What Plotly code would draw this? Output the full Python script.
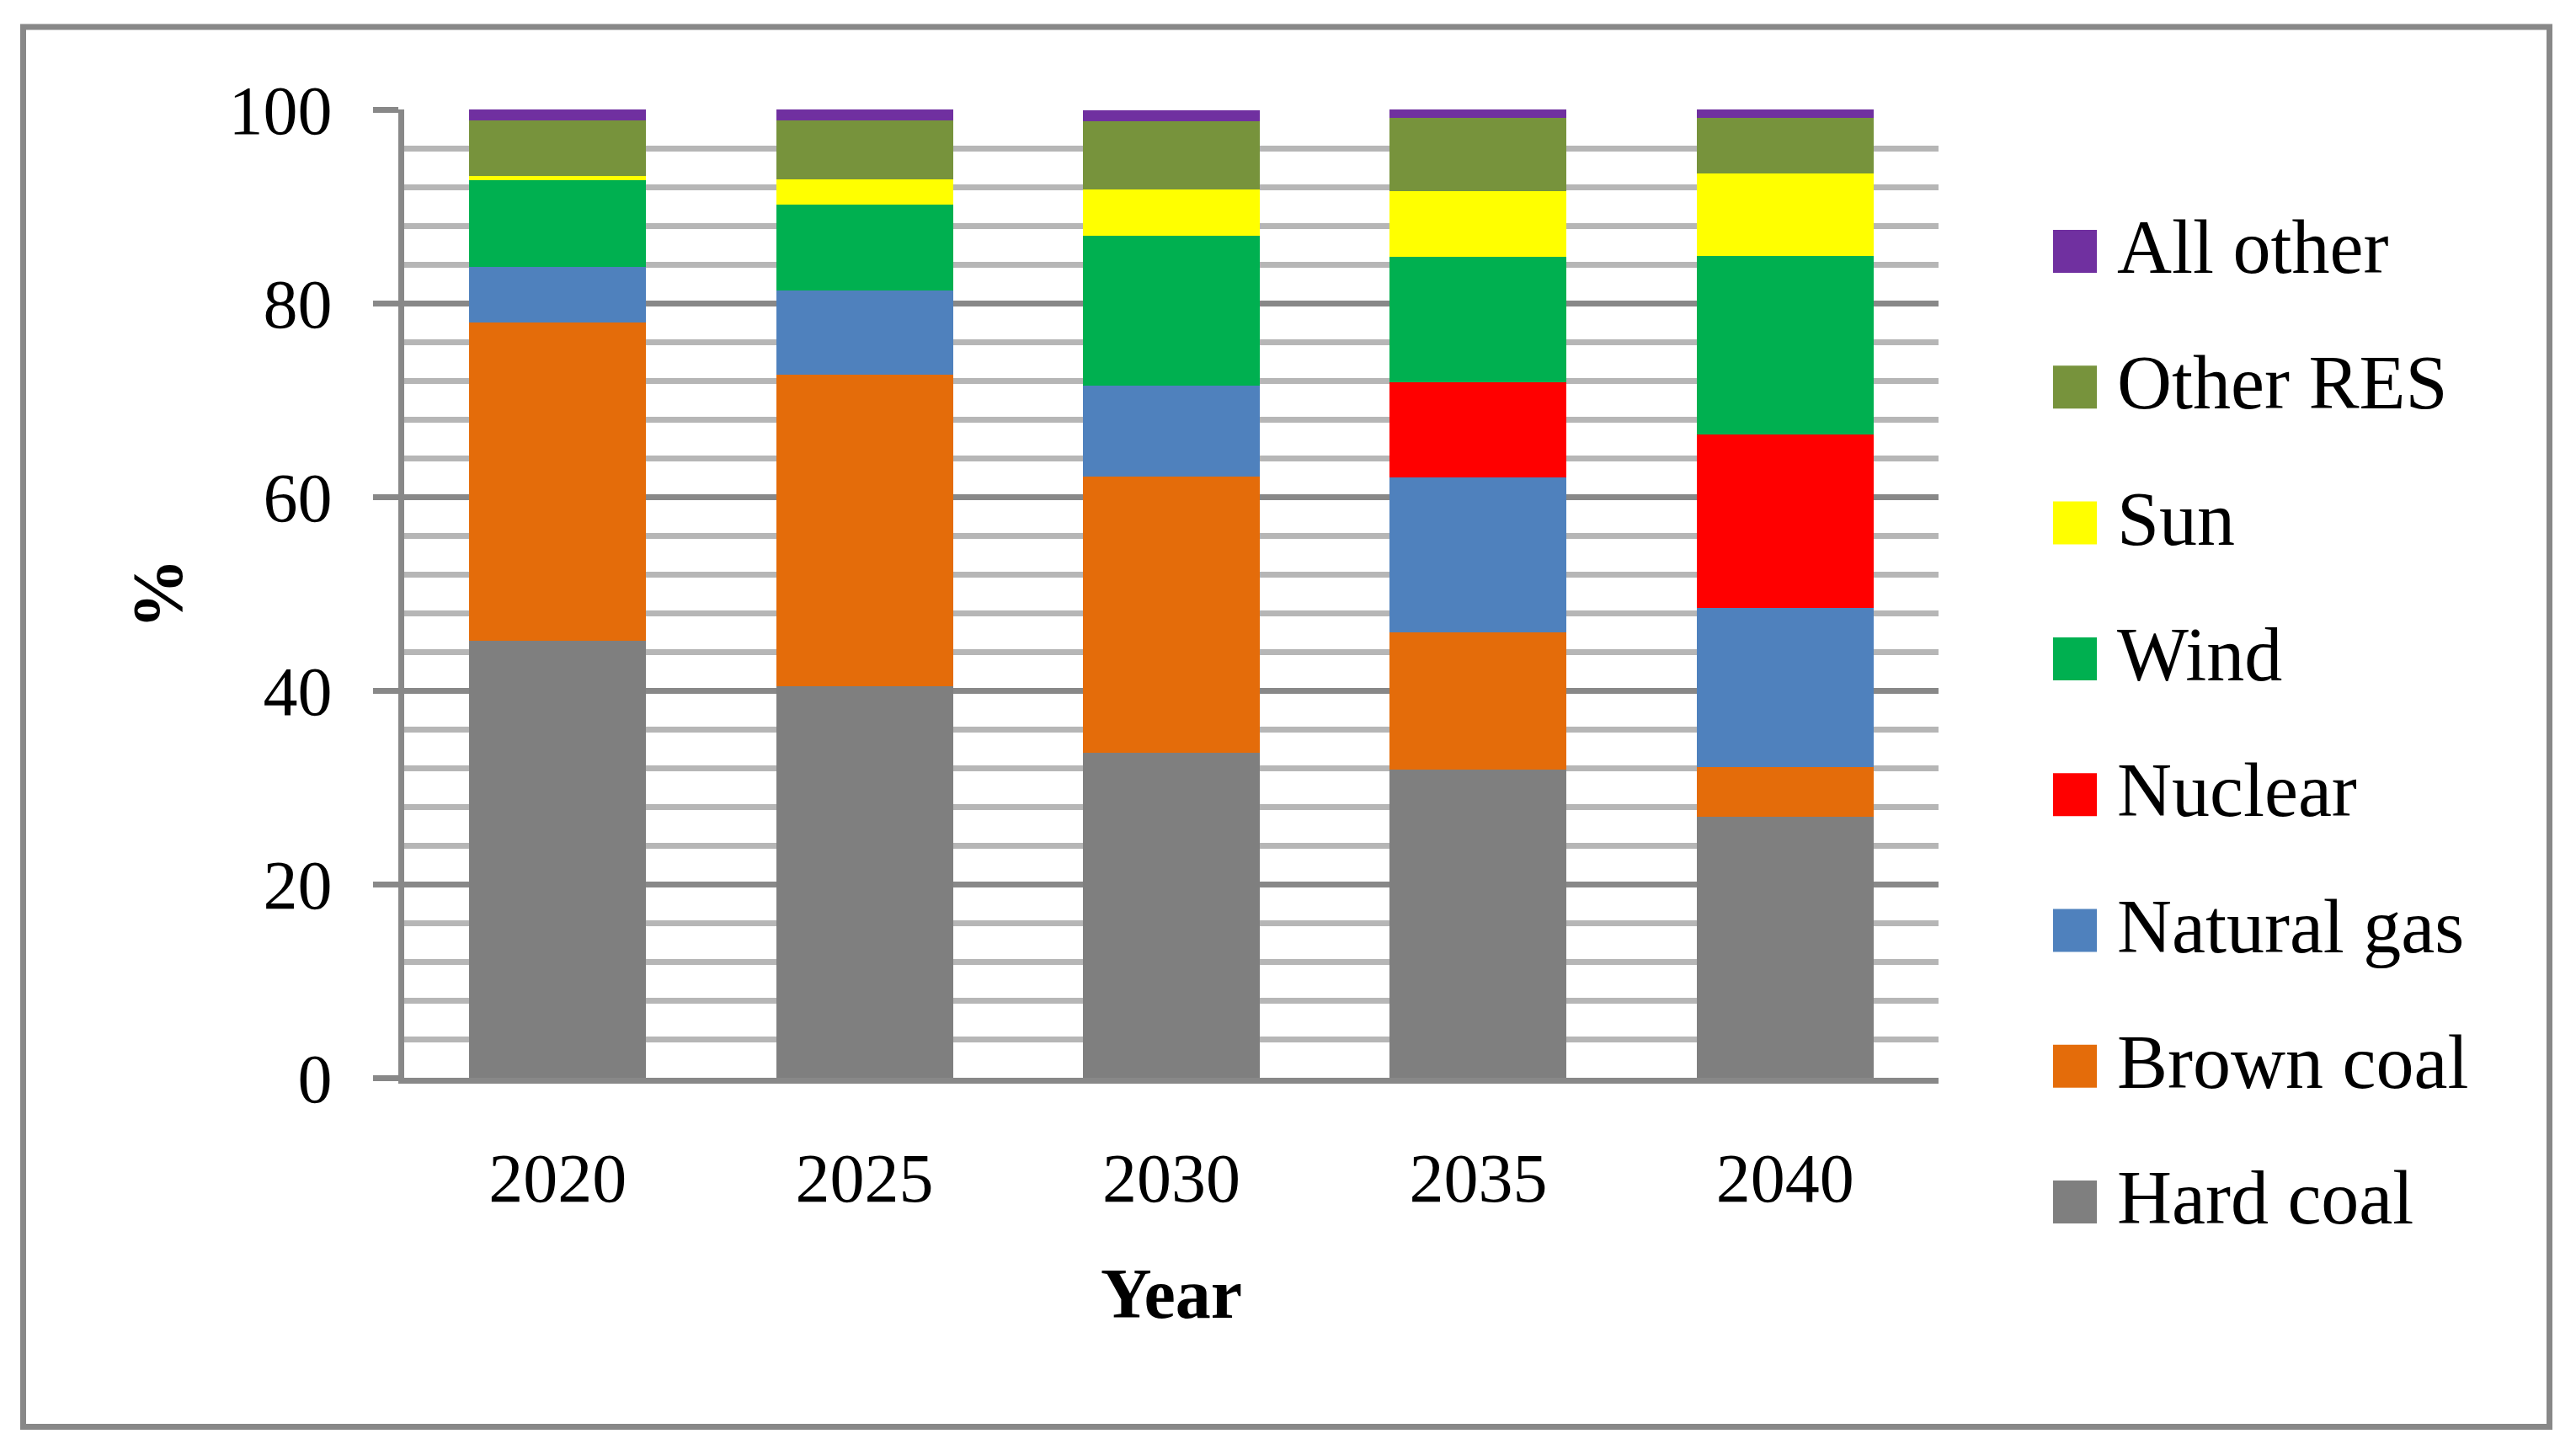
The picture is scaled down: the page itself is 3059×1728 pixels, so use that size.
import plotly.graph_objects as go

# ---------------- data ----------------
years = ["2020", "2025", "2030", "2035", "2040"]

hard_coal   = [45.1, 40.4, 33.6, 31.8, 27.0]
brown_coal  = [32.9, 32.2, 28.5, 14.2, 5.1]
natural_gas = [5.7, 8.7, 9.4, 16.0, 16.4]
nuclear     = [0.0, 0.0, 0.0, 9.8, 17.9]
wind        = [9.0, 8.9, 15.5, 13.0, 18.5]
sun         = [0.4, 2.6, 4.7, 6.8, 8.5]
other_res   = [5.8, 6.1, 7.1, 7.5, 5.7]
all_other   = [1.1, 1.1, 1.1, 0.9, 0.9]

series_names = ["Hard coal", "Brown coal", "Natural gas", "Nuclear",
                "Wind", "Sun", "Other RES", "All other"]
series_values = [hard_coal, brown_coal, natural_gas, nuclear,
                 wind, sun, other_res, all_other]
series_colors = ["#7f7f7f", "#e46c0a", "#4f81bd", "#ff0000",
                 "#00b050", "#ffff00", "#77933c", "#7030a0"]

y_title = "%"
x_title = "Year"

# ---------------- layout constants ----------------
W, H = 3059, 1728
ML, MR, MT, MB = 480, 757, 130, 448
FONT = "Liberation Serif"
AXIS_GRAY = "#888888"
MINOR_GRAY = "#b6b6b6"


def px_to_paper_x(px):
    return (px - ML) / (W - ML - MR)


def px_to_paper_y(py):
    return (H - MB - py) / (H - MT - MB)


fig = go.Figure()
for name, vals, col in zip(series_names, series_values, series_colors):
    fig.add_trace(go.Bar(name=name, x=years, y=vals,
                         marker=dict(color=col, line=dict(width=0)),
                         showlegend=False))

shapes = []
annotations = []

# outer border of the chart area
shapes.append(dict(type="rect", xref="paper", yref="paper",
                   x0=px_to_paper_x(27.5), x1=px_to_paper_x(3027.5),
                   y0=px_to_paper_y(32), y1=px_to_paper_y(1694.5),
                   line=dict(color=AXIS_GRAY, width=7), fillcolor="rgba(0,0,0,0)",
                   layer="below"))

# manual legend (reversed order, like the reference)
leg_names = list(reversed(series_names))
leg_colors = list(reversed(series_colors))
for i, (nm, col) in enumerate(zip(leg_names, leg_colors)):
    cy = 298.5 + i * 161.3
    shapes.append(dict(type="rect", xref="paper", yref="paper",
                       x0=px_to_paper_x(2438), x1=px_to_paper_x(2490),
                       y0=px_to_paper_y(cy - 25.5), y1=px_to_paper_y(cy + 25.5),
                       line=dict(width=0), fillcolor=col))
    annotations.append(dict(text=nm, xref="paper", yref="paper",
                            x=px_to_paper_x(2512), y=px_to_paper_y(cy - 5),
                            xanchor="left", yanchor="middle", showarrow=False,
                            font=dict(family=FONT, size=90, color="black")))

fig.update_layout(
    width=W, height=H,
    margin=dict(l=ML, r=MR, t=MT, b=MB, autoexpand=False),
    barmode="stack",
    bargap=0.424,
    paper_bgcolor="white",
    plot_bgcolor="white",
    font=dict(family=FONT, color="black"),
    showlegend=False,
    shapes=shapes,
    annotations=annotations,
    xaxis=dict(
        type="category",
        showgrid=False,
        showline=True, linecolor=AXIS_GRAY, linewidth=7,
        ticks="",
        tickfont=dict(family=FONT, size=82, color="black"),
        ticklabelstandoff=42,
        title=dict(text=x_title, font=dict(family=FONT, size=84, color="black", weight="bold"),
                   standoff=64),
        automargin=False,
    ),
    yaxis=dict(
        range=[0, 100],
        dtick=20, tick0=0,
        showgrid=True, gridcolor=AXIS_GRAY, gridwidth=7,
        zeroline=False,
        showline=True, linecolor=AXIS_GRAY, linewidth=7,
        ticks="outside", ticklen=30, tickwidth=7, tickcolor=AXIS_GRAY,
        tickfont=dict(family=FONT, size=82, color="black"),
        ticklabelstandoff=32,
        minor=dict(dtick=4, tick0=0, showgrid=True, gridcolor=MINOR_GRAY,
                   gridwidth=7, ticks=""),
        title=dict(text=y_title, font=dict(family=FONT, size=84, color="black", weight="bold"),
                   standoff=30),
        automargin=False,
    ),
)

fig.write_html("out.html",
               config={"displayModeBar": False},
               post_script="document.body.style.margin='0';document.body.style.overflow='hidden';")
